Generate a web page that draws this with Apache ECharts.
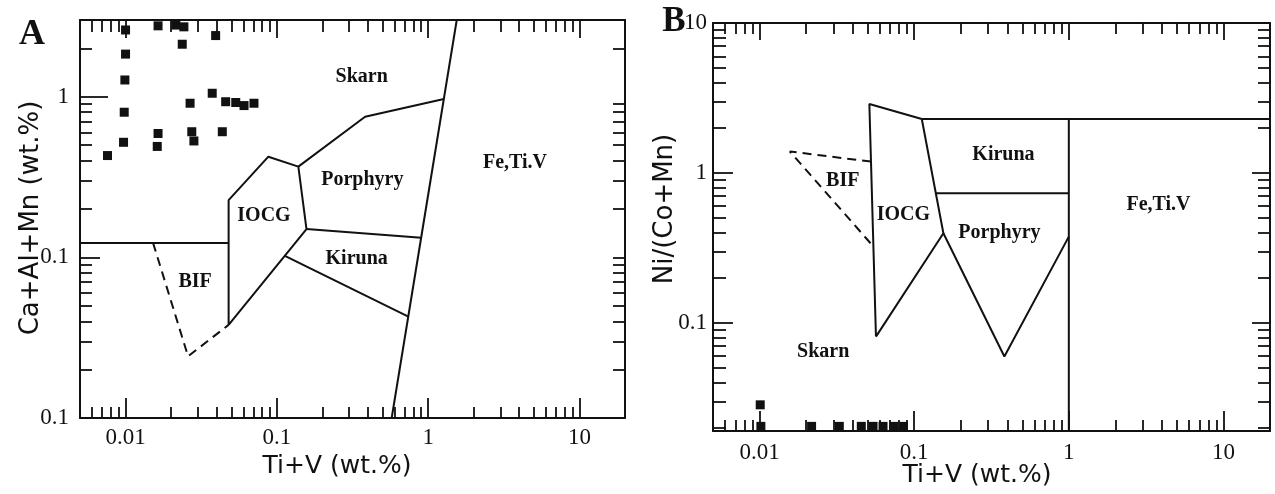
<!DOCTYPE html>
<html lang="en">
<head>
<meta charset="UTF-8">
<title>Ti+V discrimination diagrams</title>
<script src="https://cdn.jsdelivr.net/npm/echarts@6/dist/echarts.min.js"></script>
<style>
  html, body { margin: 0; padding: 0; background: #fff; }
  #chart { width: 1275px; height: 494px; }
</style>
</head>
<body>
<div id="chart"></div>
<script>
// ---- ticks (both panels share the Ti+V axis) ----
var xMajor = [0.01, 0.1, 1, 10];
var xLabels = ['0.01', '0.1', '1', '10'];
var xMinor = [0.006, 0.007, 0.008, 0.009,
              0.02, 0.03, 0.04, 0.05, 0.06, 0.07, 0.08, 0.09,
              0.2, 0.3, 0.4, 0.5, 0.6, 0.7, 0.8, 0.9,
              2, 3, 4, 5, 6, 7, 8, 9];
var yMajorA = [0.01, 0.1, 1];
var yLabelsA = ['0.1', '0.1', '1'];   // as printed in the original
var yMinorA = [0.02, 0.03, 0.04, 0.05, 0.06, 0.07, 0.08, 0.09,
               0.2, 0.3, 0.4, 0.5, 0.6, 0.7, 0.8, 0.9, 2];
var yMajorB = [0.1, 1, 10];
var yLabelsB = ['0.1', '1', '10'];
var yMinorB = [0.02, 0.03, 0.04, 0.05, 0.06, 0.07, 0.08, 0.09,
               0.2, 0.3, 0.4, 0.5, 0.6, 0.7, 0.8, 0.9,
               2, 3, 4, 5, 6, 7, 8, 9];

// ---- panel A : Ca+Al+Mn vs Ti+V ----
var samplesA = [
  [0.0100, 2.60], [0.0100, 1.84], [0.0099, 1.27], [0.0098, 0.80], [0.0097, 0.52],
  [0.0076, 0.43], [0.0164, 2.76], [0.0215, 2.79], [0.0243, 2.72], [0.0237, 2.12],
  [0.0394, 2.40], [0.0374, 1.05], [0.0267, 0.91], [0.0459, 0.93], [0.0535, 0.92],
  [0.0607, 0.88], [0.0706, 0.91], [0.0164, 0.59], [0.0162, 0.49], [0.0274, 0.605],
  [0.0283, 0.53], [0.0436, 0.605]
];
var feLineA = [[1.545, 3], [0.574, 0.01]];
var porphyryTopA = [[0.1387, 0.367], [0.383, 0.75], [1.27, 0.967]];
var iocgA = [[0.048, 0.038], [0.048, 0.227], [0.0879, 0.423], [0.1387, 0.367], [0.157, 0.150], [0.048, 0.038]];
var bifTopA = [[0.005, 0.123], [0.048, 0.123]];
var porphyryBottomA = [[0.157, 0.150], [0.9, 0.1325]];
var kirunaBottomA = [[0.113, 0.102], [0.74, 0.0428]];
var bifA = [[0.0152, 0.123], [0.0259, 0.0242], [0.048, 0.038]];
var fieldsA = [
  [0.364, 1.33, 'Skarn'], [3.75, 0.385, 'Fe,Ti.V'], [0.367, 0.303, 'Porphyry'],
  [0.0822, 0.181, 'IOCG'], [0.337, 0.0973, 'Kiruna'], [0.0288, 0.0706, 'BIF']
];

// ---- panel B : Ni/(Co+Mn) vs Ti+V ----
var samplesB = [
  [0.0101, 0.0284], [0.0102, 0.0204], [0.0217, 0.0204], [0.0328, 0.0204], [0.0455, 0.0204],
  [0.0542, 0.0204], [0.0629, 0.0204], [0.0738, 0.0204], [0.0851, 0.0204]
];
var iocgB = [[0.0566, 0.081], [0.0513, 2.88], [0.112, 2.29], [0.1545, 0.396], [0.0566, 0.081]];
var kirunaTopB = [[0.112, 2.29], [20, 2.29]];
var feLineB = [[1, 2.29], [1, 0.019]];
var kirunaBottomB = [[0.138, 0.732], [1, 0.732]];
var porphyryB = [[0.1545, 0.396], [0.383, 0.0596], [1, 0.376]];
var bifB = [[0.0526, 1.19], [0.0157, 1.39], [0.0545, 0.323]];
var fieldsB = [
  [0.378, 1.32, 'Kiruna'], [0.0345, 0.889, 'BIF'], [0.0851, 0.525, 'IOCG'],
  [0.356, 0.396, 'Porphyry'], [0.0258, 0.0644, 'Skarn'], [3.80, 0.612, 'Fe,Ti.V']
];

var ink = '#111';
var serif = 'Liberation Serif, Times New Roman, serif';
var sans = 'DejaVu Sans, Verdana, sans-serif';

function labelText(ticks, texts) {
  return function (v) {
    for (var i = 0; i < ticks.length; i++) {
      if (Math.abs(Math.log10(v) - Math.log10(ticks[i])) < 1e-6) return texts[i];
    }
    return '';
  };
}

function logAxis(grid, pos, min, max, ticks, len, showLine, labels, texts, margin) {
  return {
    type: 'log', logBase: 10, gridIndex: grid, position: pos, min: min, max: max,
    axisLine: { show: showLine, onZero: false, lineStyle: { color: ink, width: 2 } },
    axisTick: { show: true, inside: true, length: len, customValues: ticks,
                lineStyle: { color: ink, width: 1.8 } },
    axisLabel: labels ? {
      show: true, customValues: labels, formatter: labelText(labels, texts),
      fontFamily: serif, fontSize: 23, color: ink, margin: margin
    } : { show: false },
    splitLine: { show: false },
    minorTick: { show: false },
    minorSplitLine: { show: false }
  };
}

function boundary(line, ai, dashed) {
  return {
    type: 'line', xAxisIndex: ai, yAxisIndex: ai, data: line, symbol: 'none',
    silent: true, z: 3,
    lineStyle: { color: ink, width: 2, type: dashed ? [9, 6] : 'solid' }
  };
}

function samples(data, ai) {
  return {
    type: 'scatter', xAxisIndex: ai, yAxisIndex: ai, data: data, symbol: 'rect',
    symbolSize: 9, itemStyle: { color: '#111', opacity: 1 }, z: 4
  };
}

function fieldNames(data, ai) {
  return {
    type: 'scatter', xAxisIndex: ai, yAxisIndex: ai, data: data, symbolSize: 1,
    itemStyle: { color: '#fff', opacity: 0 }, silent: true, z: 5,
    label: {
      show: true, position: 'inside', color: ink, opacity: 1,
      textBorderWidth: 0,
      fontFamily: serif, fontWeight: 'bold', fontSize: 20,
      formatter: function (p) { return p.value[2]; }
    }
  };
}

function title(text, x, y, size, rot, bold, family) {
  return {
    type: 'text', x: x, y: y, rotation: rot || 0,
    style: { text: text, font: (bold ? 'bold ' : '') + size + 'px ' + family, fill: ink,
             align: 'center', verticalAlign: 'middle',
             textAlign: 'center', textVerticalAlign: 'middle' }
  };
}

var chart = echarts.init(document.getElementById('chart'));

chart.setOption({
  animation: false,
  backgroundColor: '#fff',
  grid: [
    { left: 80, top: 20, width: 545, height: 398, outerBoundsMode: 'none' },
    { left: 713, top: 23, width: 557, height: 408, outerBoundsMode: 'none' }
  ],
  xAxis: [
    logAxis(0, 'bottom', 0.005, 20, xMajor, 20, true, xMajor, xLabels, 8),
    logAxis(0, 'bottom', 0.005, 20, xMinor, 11, false),
    logAxis(0, 'top', 0.005, 20, xMajor, 18, true),
    logAxis(0, 'top', 0.005, 20, xMinor, 12, false),
    logAxis(1, 'bottom', 0.005, 20, xMajor, 20, true, xMajor, xLabels, 10),
    logAxis(1, 'bottom', 0.005, 20, xMinor, 11, false),
    logAxis(1, 'top', 0.005, 20, xMajor, 17, true),
    logAxis(1, 'top', 0.005, 20, xMinor, 11, false)
  ],
  yAxis: [
    logAxis(0, 'left', 0.01, 3, [0.01, 0.1], 20, true, yMajorA, yLabelsA, 11),
    logAxis(0, 'left', 0.01, 3, yMinorA, 12, false),
    logAxis(0, 'right', 0.01, 3, yMinorA.concat([0.1]), 12, true),
    logAxis(0, 'left', 0.01, 3, [1], 28, false),
    logAxis(1, 'left', 0.019, 10, yMajorB, 20, true, yMajorB, yLabelsB, 6),
    logAxis(1, 'left', 0.019, 10, yMinorB, 13, false),
    logAxis(1, 'right', 0.019, 10, yMinorB, 12, true),
    logAxis(1, 'right', 0.019, 10, [0.1, 1], 18, false)
  ],
  graphic: [
    title('A', 32, 35, 36, 0, true, serif),
    title('B', 674, 22, 35, 0, true, serif),
    title('Ti+V (wt.%)', 337, 466, 25, 0, false, sans),
    title('Ti+V (wt.%)', 977, 475, 25, 0, false, sans),
    title('Ca+Al+Mn (wt.%)', 31, 218, 26, Math.PI / 2, false, sans),
    title('Ni/(Co+Mn)', 665, 209, 26, Math.PI / 2, false, sans)
  ],
  series: [
    boundary(feLineA, 0), boundary(porphyryTopA, 0), boundary(iocgA, 0),
    boundary(bifTopA, 0), boundary(porphyryBottomA, 0), boundary(kirunaBottomA, 0),
    boundary(bifA, 0, true),
    samples(samplesA, 0), fieldNames(fieldsA, 0),
    boundary(iocgB, 4), boundary(kirunaTopB, 4), boundary(feLineB, 4),
    boundary(kirunaBottomB, 4), boundary(porphyryB, 4), boundary(bifB, 4, true),
    samples(samplesB, 4), fieldNames(fieldsB, 4)
  ]
});
</script>
</body>
</html>
